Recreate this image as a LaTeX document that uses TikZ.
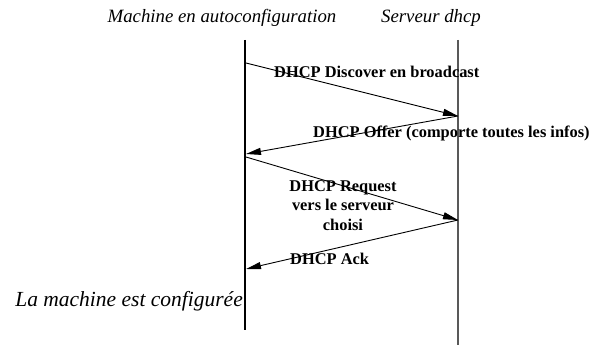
\documentclass[tikz,border=0pt]{standalone}
\usepackage{fontspec}
\setmainfont{Liberation Serif}
\usetikzlibrary{arrows.meta}
\begin{document}
\begin{tikzpicture}[x=1pt, y=-1pt, line join=round, >={Triangle[length=15pt,width=7pt]},
    title/.style={font=\fontsize{18.8}{21}\selectfont\itshape, anchor=base},
    msg/.style={font=\fontsize{16.4}{19.5}\selectfont\bfseries, anchor=base west, inner sep=0pt},
    arr/.style={->, line width=.9pt}]
    \useasboundingbox (0,0) rectangle (594,350);
    % lifelines
    \coordinate (mtop) at (245,40);
    \coordinate (mbot) at (245,330);
    \coordinate (stop) at (458,40);
    \coordinate (sbot) at (458,345);
    \draw[line width=2pt] (mtop)--(mbot);
    \draw[line width=1.5pt, black!65] (stop)--(sbot);
    \node[title] (machine) at (222,23) {Machine en autoconfiguration};
    \node[title] (serveur) at (431,23) {Serveur dhcp};
    % messages
    \coordinate (m1) at (246,63);
    \coordinate (s1) at (458,116);
    \coordinate (m2) at (246,154);
    \coordinate (m3) at (246,157);
    \coordinate (s2) at (458,220);
    \coordinate (m4) at (246,269);
    \draw[arr] (m1)--(s1);
    \draw[arr] (s1)--(m2);
    \draw[arr] (m3)--(s2);
    \draw[arr] (s2)--(m4);
    \node[msg] (discover) at (274,78) {DHCP Discover en broadcast};
    \node[msg] (offer) at (313,138) {DHCP Offer (comporte toutes les infos)};
    \node[msg, anchor=base, align=center] (request) at (343,230) {DHCP Request\\vers le serveur\\choisi};
    \node[msg] (ack) at (290,264) {DHCP Ack};
    \node[title, font=\fontsize{21.5}{24}\selectfont\itshape, anchor=base east, inner sep=0pt] (config) at (243,306) {La machine est configurée};
\end{tikzpicture}
\end{document}
